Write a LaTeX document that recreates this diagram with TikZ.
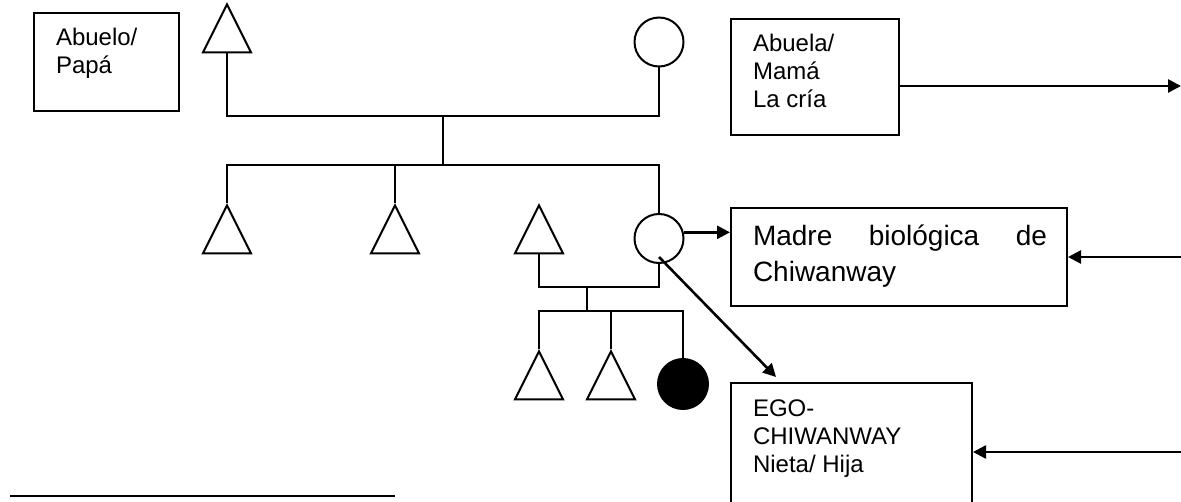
\documentclass[tikz,border=0pt]{standalone}
\usepackage{fontspec}
\setmainfont{Liberation Sans}
\usetikzlibrary{arrows.meta,shapes.geometric,positioning,calc}
\tolerance=9999
\hyphenpenalty=10000

\begin{document}
\begin{tikzpicture}
	[x=0.5pt,y=-0.5pt,line width=1pt,
	hombre/.style={isosceles triangle,shape border rotate=90,isosceles triangle stretches,draw=black,
		inner sep=0pt,minimum width=24pt,minimum height=24pt},
	mujer/.style={circle,draw=black,inner sep=0pt,minimum size=24.5pt},
	ego/.style={circle,draw=black,fill=black,inner sep=0pt,minimum size=25pt},
	caja/.style={rectangle,draw=black,inner sep=0pt},
	texto/.style={anchor=base west,inner sep=0pt,align=left,font=\fontsize{12}{14}\selectfont},
	flecha/.style={-{Triangle[length=6.5pt,width=6.5pt]},line width=1.3pt}]
	\useasboundingbox (0,0) rectangle (1181,502);
	\clip (0,0) rectangle (1181,502);
	%abuelos
	\node[hombre] (abuelo) at (227,37.5) {};
	\node[mujer] (abuela) at (659,42) {};
	\draw (abuelo.south) |- (443,116) coordinate (uAbuelos) -| (abuela.south);
	\draw (uAbuelos) -- (443,165) coordinate (hAbuelos);
	%hijos
	\node[hombre] (hijo1) at (227,238.5) {};
	\node[hombre] (hijo2) at (395,238.5) {};
	\node[hombre] (pareja) at (539,238.5) {};
	\node[mujer] (madre) at (659,238.5) {};
	\draw (hijo1.north) |- (hAbuelos) -| (madre.north);
	\draw (hijo2.north) -- (hijo2.north |- hAbuelos);
	%nietos
	\draw (pareja.south) |- (587,287) coordinate (uPadres) -| (madre.south);
	\draw (uPadres) -- (587,311) coordinate (hPadres);
	\node[hombre] (nieto1) at (539,384.5) {};
	\node[hombre] (nieto2) at (611,384.5) {};
	\node[ego] (chiwanway) at (683,384) {};
	\draw (nieto1.north) |- (hPadres) -| (chiwanway.north);
	\draw (nieto2.north) -- (nieto2.north |- hPadres);
	%cajas (el texto va por la linea de base de su ultima linea)
	\node[caja,minimum width=72.5pt,minimum height=49pt] (cAbuelo) at (106.5,62) {};
	\node[texto] (tAbuelo) at (55,74) {Abuelo/\\Papá};
	\node[caja,minimum width=84pt,minimum height=58pt] (cAbuela) at (815,77) {};
	\node[texto] (tAbuela) at (752,108) {Abuela/\\Mamá\\La cría};
	\node[caja,minimum width=168pt,minimum height=49pt] (cMadre) at (899,257) {};
	\node[texto,text width=147pt,align=justify,font=\fontsize{14}{18}\selectfont] (tMadre) at (752,245) {Madre biológica de Chiwanway};
	\node[caja,minimum width=120.5pt,minimum height=73.5pt] (cEgo) at (851.5,456.5) {};
	\node[texto] (tEgo) at (752,472) {EGO-\\CHIWANWAY\\Nieta/ Hija};
	%flechas
	\coordinate (fAbuela) at (1181,86);
	\coordinate (fMadre) at (1181,257);
	\coordinate (fEgo) at (1181,452);
	\draw[flecha] (cAbuela.east |- fAbuela) -- (fAbuela);
	\draw[flecha] (fMadre) -- (cMadre.east);
	\draw[flecha] (fEgo) -- (fEgo -| cEgo.east);
	\draw[flecha] (madre.14) -- (madre.14 -| cMadre.west);
	\draw[flecha] ($(madre)+(0,18.5)$) -- ($(cEgo.north west)+(46,-5)$);
	%linea de nota
	\draw (10,496) -- (395,496);
\end{tikzpicture}
\end{document}
